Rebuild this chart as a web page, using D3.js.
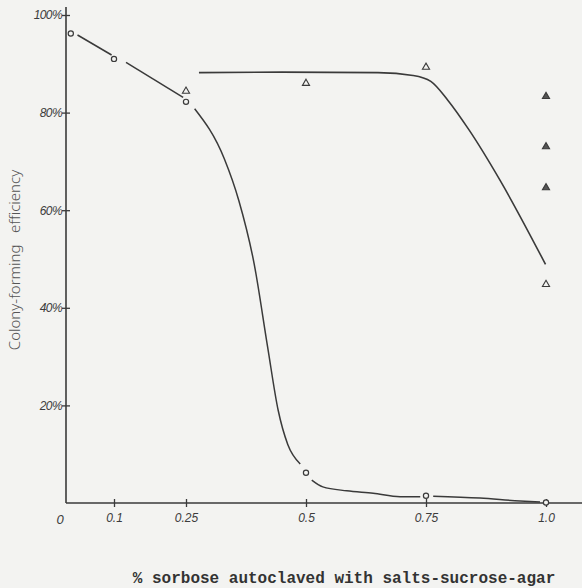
<!DOCTYPE html>
<html>
<head>
<meta charset="utf-8">
<script src="https://cdn.jsdelivr.net/npm/d3@7"></script>
<style>
  html, body { margin: 0; padding: 0; background: #f3f3f1; }
  svg { display: block; }
</style>
</head>
<body>
<div id="chart"></div>
<script>
// sorbose concentration (%) and colony-forming efficiency (%)
var circleX = [0.01, 0.1, 0.25, 0.5, 0.75, 1.0];
var circleY = [96.2, 91.0, 82.2, 6.2, 1.5, 0.1];
var triX = [0.25, 0.5, 0.75, 1.0, 1.0, 1.0, 1.0];
var triY = [84.4, 86.0, 89.3, 83.3, 73.0, 64.6, 44.8];
var triFilled = [false, false, false, true, true, true, false];

// hand-drawn curve through circles, drawn in pieces with gaps at the points
var curveOne = [
    [[0.024, 95.9], [0.095, 91.8]],
    [[0.125, 90.3], [0.244, 83.1]],
    [[0.268, 80.8], [0.330, 70.5], [0.360, 62.0], [0.392, 49.0], [0.420, 32.0], [0.442, 19.0], [0.462, 12.0], [0.488, 8.0]],
    [[0.512, 4.7], [0.535, 3.3], [0.585, 2.5], [0.640, 2.0], [0.696, 1.3], [0.738, 1.3]],
    [[0.765, 1.4], [0.8625, 1.0], [0.946, 0.4], [0.9875, 0.2]]
];
// hand-drawn curve through triangles
var curveTwo = [[0.277, 88.2], [0.45, 88.3], [0.65, 88.2], [0.723, 87.6], [0.760, 86.4], [0.795, 82.6], [0.840, 76.4], [0.905, 66.0], [0.999, 48.9]];

var xTicks = [0.1, 0.25, 0.5, 0.75, 1.0];
var xTickLabels = ["0.1", "0.25", "0.5", "0.75", "1.0"];
var yTicks = [20, 40, 60, 80, 100];
var yTickLabels = ["20%", "40%", "60%", "80%", "100%"];

var chartWidth = 582,
    chartHeight = 588;
var ink = "#3a3a3a";

var svg = d3.select("#chart").append("svg")
    .attr("width", chartWidth)
    .attr("height", chartHeight);

var x = d3.scaleLinear().domain([0, 1.0]).range([66, 546]);
var y = d3.scaleLinear().domain([0, 100]).range([503, 15]);

// axes
svg.append("line")
    .attr("x1", x(0)).attr("x2", chartWidth)
    .attr("y1", y(0)).attr("y2", y(0))
    .attr("stroke", ink).attr("stroke-width", 1.6);
svg.append("line")
    .attr("x1", x(0)).attr("x2", x(0))
    .attr("y1", y(0)).attr("y2", 7)
    .attr("stroke", ink).attr("stroke-width", 1.6);

var xAxis = svg.append("g")
    .attr("transform", "translate(0," + y(0) + ")")
    .call(d3.axisBottom(x).tickValues(xTicks).tickSize(0)
        .tickFormat(function(d, i) { return xTickLabels[i]; }));
xAxis.select(".domain").remove();
xAxis.selectAll(".tick line")
    .attr("y1", -4).attr("y2", 4)
    .attr("stroke", ink).attr("stroke-width", 1.3);
xAxis.selectAll(".tick text")
    .attr("y", 10)
    .attr("font-family", "Liberation Sans, sans-serif")
    .attr("font-style", "italic")
    .attr("font-size", 12)
    .attr("fill", "#3c3c3c");
svg.append("text")
    .attr("x", x(0) - 6).attr("y", y(0) + 21)
    .attr("text-anchor", "middle")
    .attr("font-family", "Liberation Sans, sans-serif")
    .attr("font-style", "italic")
    .attr("font-size", 13)
    .attr("fill", "#3c3c3c")
    .text("0");

var yAxis = svg.append("g")
    .attr("transform", "translate(" + x(0) + ",0)")
    .call(d3.axisLeft(y).tickValues(yTicks).tickSize(0)
        .tickFormat(function(d, i) { return yTickLabels[i]; }));
yAxis.select(".domain").remove();
yAxis.selectAll(".tick line")
    .attr("x1", -4).attr("x2", 4)
    .attr("stroke", ink).attr("stroke-width", 1.3);
yAxis.selectAll(".tick text")
    .attr("x", -4)
    .attr("font-family", "Liberation Sans, sans-serif")
    .attr("font-style", "italic")
    .attr("font-size", 12)
    .attr("letter-spacing", -0.6)
    .attr("fill", "#3c3c3c");

// axis titles
svg.append("text")
    .attr("transform", "translate(20,260) rotate(-90)")
    .attr("text-anchor", "middle")
    .attr("font-family", "Noto Sans, sans-serif")
    .attr("font-weight", 300)
    .attr("font-size", 15)
    .attr("fill", "#555")
    .attr("xml:space", "preserve")
    .text("Colony-forming   efficiency");

svg.append("text")
    .attr("x", 344).attr("y", 583)
    .attr("text-anchor", "middle")
    .attr("font-family", "Liberation Mono, monospace")
    .attr("font-weight", "bold")
    .attr("font-size", 16)
    .attr("fill", "#333")
    .text("% sorbose autoclaved with salts-sucrose-agar");

// curves
var line = d3.line()
    .x(function(d) { return x(d[0]); })
    .y(function(d) { return y(d[1]); })
    .curve(d3.curveMonotoneX);

svg.selectAll(".curve-one")
    .data(curveOne)
    .enter().append("path")
    .attr("class", "curve-one")
    .attr("d", line)
    .attr("fill", "none")
    .attr("stroke", ink)
    .attr("stroke-width", 1.5);

svg.append("path")
    .datum(curveTwo)
    .attr("d", line)
    .attr("fill", "none")
    .attr("stroke", ink)
    .attr("stroke-width", 1.6);

// points
svg.selectAll(".pt-circle")
    .data(circleX)
    .enter().append("circle")
    .attr("class", "pt-circle")
    .attr("cx", function(d) { return x(d); })
    .attr("cy", function(d, i) { return y(circleY[i]); })
    .attr("r", 2.6)
    .attr("fill", "#f3f3f1")
    .attr("stroke", ink)
    .attr("stroke-width", 1.2);

var tri = d3.symbol().type(d3.symbolTriangle).size(22);
svg.selectAll(".pt-tri")
    .data(triX)
    .enter().append("path")
    .attr("class", "pt-tri")
    .attr("d", tri)
    .attr("transform", function(d, i) { return "translate(" + x(d) + "," + y(triY[i]) + ")"; })
    .attr("fill", function(d, i) { return triFilled[i] ? "#555" : "#f3f3f1"; })
    .attr("stroke", ink)
    .attr("stroke-width", 1.1);
</script>
</body>
</html>
